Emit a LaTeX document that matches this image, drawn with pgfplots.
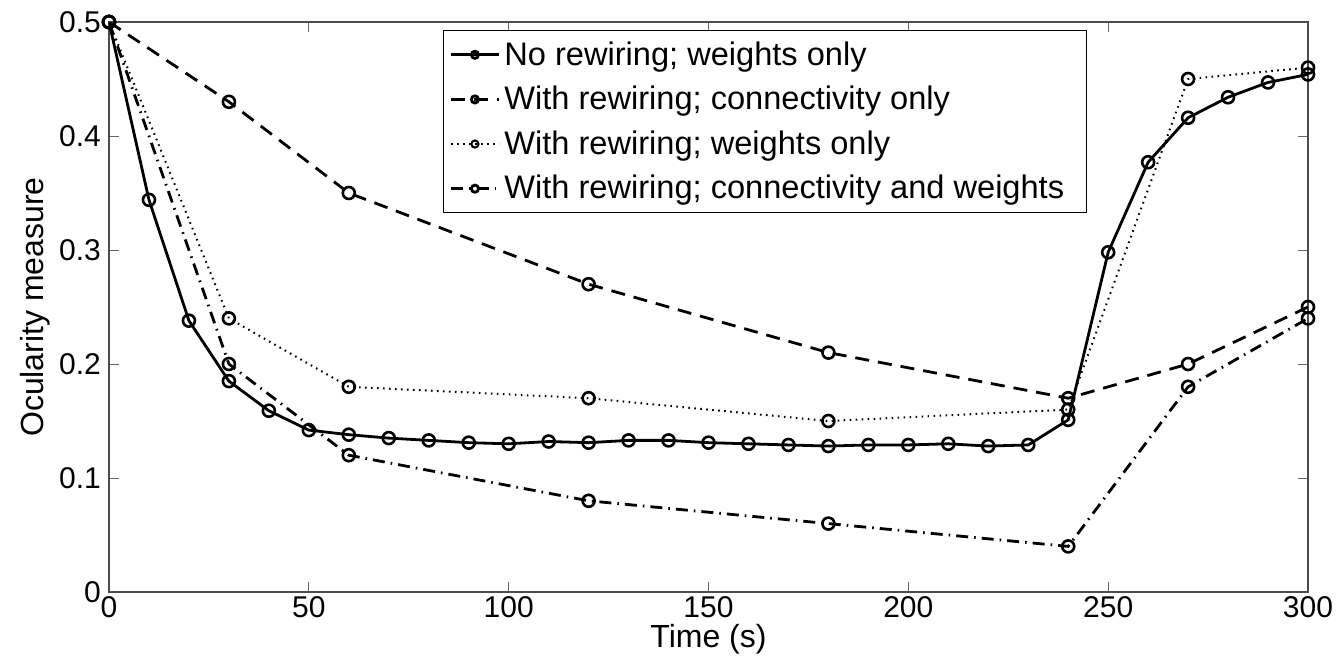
\documentclass[border=0pt]{standalone}
\usepackage{pgfplots}
\pgfplotsset{compat=1.18}
\usepackage{fontspec}
\setmainfont{Liberation Sans}
\begin{document}
\begin{tikzpicture}
\path[use as bounding box] (-54.5pt,-36.5pt) rectangle (617.5pt,296pt);
\begin{axis}[
  scale only axis, width=599.5pt, height=285pt,
  at={(0,0)}, anchor=south west,
  xmin=0, xmax=300, ymin=0, ymax=0.5,
  xtick={0,50,...,300}, ytick={0,0.1,...,0.5},
  yticklabels={0,0.1,0.2,0.3,0.4,0.5},
  tick align=inside, major tick length=5pt,
  axis line style={black!70, line width=0.6pt},
  tick style={black!60, line width=0.5pt},
  ticklabel style={font=\fontsize{15}{17}\selectfont},
  /pgf/number format/assume math mode=true,
  yticklabel style={xshift=-0.5pt},
  xticklabel style={yshift=1.5pt},
  xlabel={Time (s)}, ylabel={Ocularity measure},
  label style={font=\fontsize{16}{18}\selectfont},
  xlabel style={at={(axis description cs:0.5,-0.097)}, anchor=base},
  ylabel style={at={(axis description cs:-0.055,0.5)}, anchor=base},
  legend style={at={(rel axis cs:0.2786,0.986)}, anchor=north west,
    font=\fontsize{16.3}{19}\selectfont, draw=black, line width=0.5pt,
    row sep=5pt, inner xsep=3pt, inner ysep=3.5pt, cells={anchor=west}},
  legend image code/.code={
    \draw[#1, mark options={scale=0.6}] (0pt,0pt) -- (24pt,0pt);
    \draw[#1, mark options={scale=0.6,solid}] plot coordinates {(12pt,0pt)};
  },
  every axis plot/.append style={mark=o, mark size=3pt, mark options={solid, line width=1.3pt}},
]
\addplot[black, line width=1.4pt] coordinates {
(0,0.5) (10,0.344) (20,0.238) (30,0.185) (40,0.159) (50,0.142) (60,0.138)
(70,0.135) (80,0.133) (90,0.131) (100,0.130) (110,0.132) (120,0.131)
(130,0.133) (140,0.133) (150,0.131) (160,0.130) (170,0.129) (180,0.128)
(190,0.129) (200,0.129) (210,0.130) (220,0.128) (230,0.129) (240,0.151)
(250,0.298) (260,0.377) (270,0.416) (280,0.434) (290,0.447) (300,0.454)};
\addlegendentry{No rewiring; weights only}
\addplot[black, line width=1.4pt, dash pattern=on 7pt off 4.5pt] coordinates {
(0,0.5) (30,0.43) (60,0.35) (120,0.27) (180,0.21) (240,0.17) (270,0.20) (300,0.25)};
\addlegendentry{With rewiring; connectivity only}
\addplot[black, line width=1.0pt, dash pattern=on 0.8pt off 2.2pt] coordinates {
(0,0.5) (30,0.24) (60,0.18) (120,0.17) (180,0.15) (240,0.16) (270,0.45) (300,0.46)};
\addlegendentry{With rewiring; weights only}
\addplot[black, line width=1.4pt, dash pattern=on 6pt off 3pt on 0.8pt off 3pt] coordinates {
(0,0.5) (30,0.20) (60,0.12) (120,0.08) (180,0.06) (240,0.04) (270,0.18) (300,0.24)};
\addlegendentry{With rewiring; connectivity and weights\hspace*{6pt}}
\end{axis}
\end{tikzpicture}
\end{document}
